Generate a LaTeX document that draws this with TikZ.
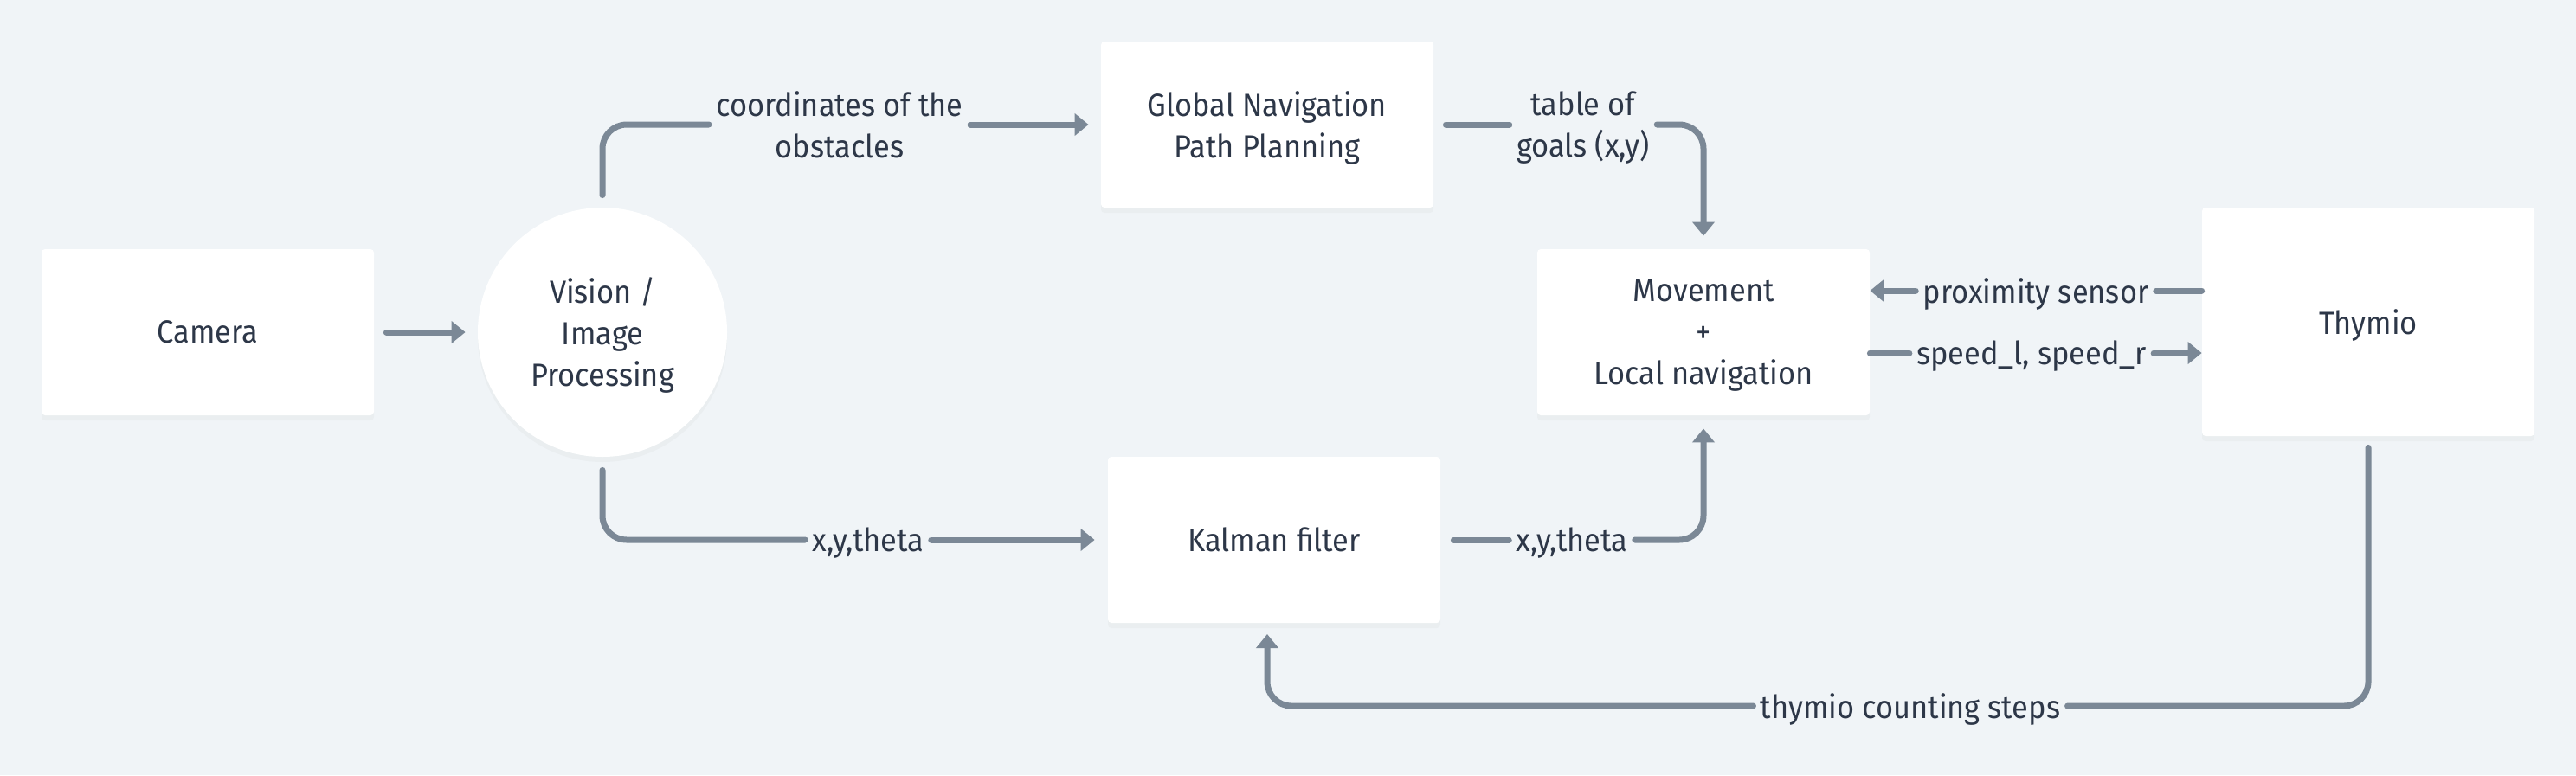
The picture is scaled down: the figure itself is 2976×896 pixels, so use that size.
\documentclass[tikz,border=0pt]{standalone}
\usepackage{fontspec}
\setmainfont{Fira Sans}[FakeStretch=0.93]
\usetikzlibrary{arrows.meta,shadows,calc}
\definecolor{bg}{RGB}{240,244,247}
\definecolor{ln}{RGB}{123,136,150}
\definecolor{tx}{RGB}{45,55,72}
\begin{document}
\begin{tikzpicture}[x=0.5pt,y=-0.5pt,
  every node/.style={font=\fontsize{18.5pt}{24pt}\selectfont, text=tx, text depth=0pt},
  box/.style={rectangle, fill=white, rounded corners=2pt, minimum width=192pt,
    minimum height=96pt, align=center,
    drop shadow={opacity=0.05, shadow xshift=0pt, shadow yshift=-3pt}},
  disc/.style={circle, fill=white, minimum size=144pt, align=center,
    drop shadow={opacity=0.05, shadow xshift=0pt, shadow yshift=-3pt}},
  lbl/.style={inner xsep=4pt, inner ysep=0pt, align=center},
  conn/.style={draw=ln, line width=3.5pt, line cap=round, rounded corners=14pt},
  arr/.style={conn, -{Triangle[width=12.5pt,length=8pt]}}
]
\fill[bg] (0,0) rectangle (2976,896);
\useasboundingbox (0,0) rectangle (2976,896);

\node[box] (cam) at (240,384) {Camera};
\node[disc] (vis) at (696,384) {Vision /\\Image\\Processing};
\node[box] (gn) at (1464,144) {Global Navigation\\Path Planning};
\node[box] (kal) at (1472,624) {Kalman filter};
\node[box] (mov) at (1968,384) {Movement\\+\\Local navigation};
\node[box, minimum height=132pt] (thy) at (2736,372) {Thymio};

\node[lbl] (lab1) at (970,144) {coordinates of the\\obstacles};
\node[lbl] (lab2) at (1829,144) {table of\\goals (x,y)};
\node[lbl] (lab3) at (1003,624) {x,y,theta};
\node[lbl] (lab4) at (1816,624) {x,y,theta};
\node[lbl] (lab5) at (2352,336) {proximity sensor};
\node[lbl] (lab6) at (2347,408) {speed\_l, speed\_r};
\node[lbl] (lab7) at (2207,816) {thymio counting steps};
\coordinate (ret) at (1464,720);

\draw[arr, shorten <=7pt, shorten >=7pt] (cam.east) -- (vis.west);
\draw[conn, shorten <=7pt] (vis.north) |- (lab1.west);
\draw[arr, shorten >=7pt] (lab1.east) -- (gn.west);
\draw[conn, shorten <=7pt] (gn.east) -- (lab2.west);
\draw[arr, shorten >=7.5pt] (lab2.east) -| (mov.north);
\draw[conn, shorten <=7.5pt] (vis.south) |- (lab3.west);
\draw[arr, shorten >=7.5pt] (lab3.east) -- (kal.west);
\draw[conn, shorten <=7.5pt] (kal.east) -- (lab4.west);
\draw[arr, shorten >=7.5pt] (lab4.east) -| (mov.south);
\draw[conn] (thy.west |- lab5) -- (lab5.east);
\draw[arr] (lab5.west) -- (mov.east |- lab5);
\draw[conn] (mov.east |- lab6) -- (lab6.west);
\draw[arr] (lab6.east) -- (thy.west |- lab6);
\draw[conn, shorten <=6.5pt] (thy.south) |- (lab7.east);
\draw[arr, shorten >=6.5pt] (lab7.west) -| (ret);
\end{tikzpicture}
\end{document}
